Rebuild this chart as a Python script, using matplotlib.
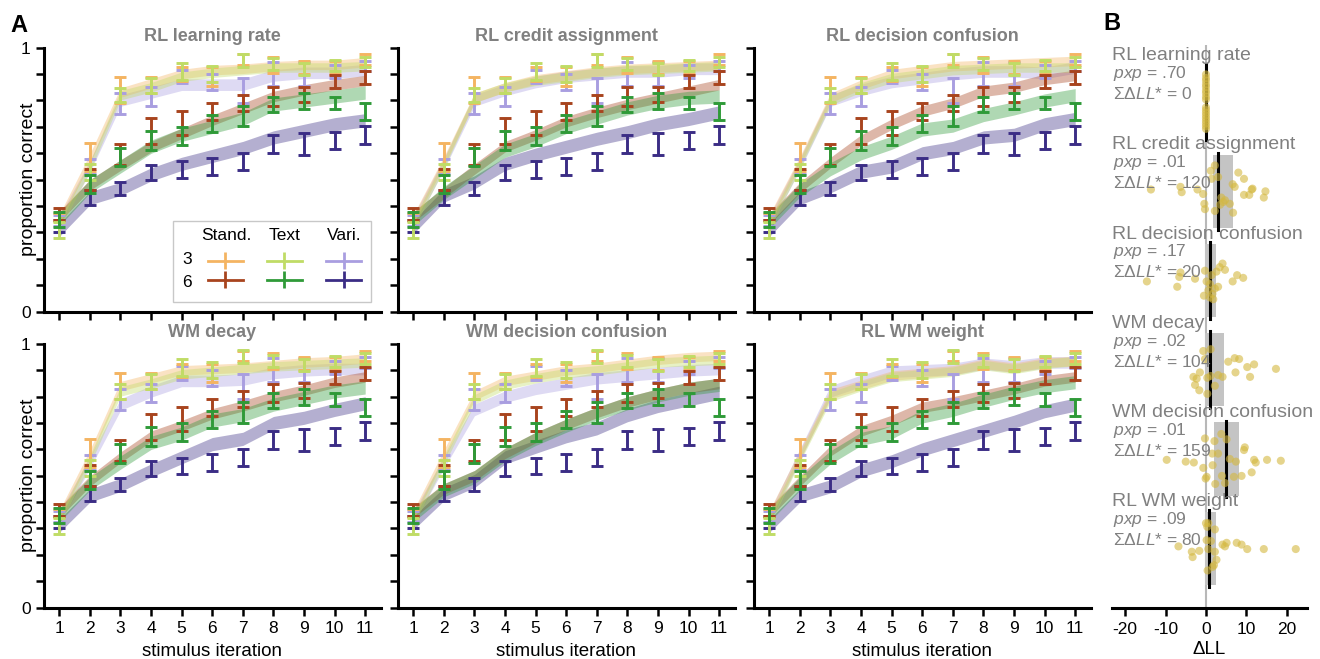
import numpy as np
import matplotlib
matplotlib.use('Agg')
import matplotlib.pyplot as plt
from matplotlib.patches import Rectangle

plt.rcParams['font.family'] = ['Liberation Sans', 'DejaVu Sans']
plt.rcParams['mathtext.fontset'] = 'custom'
plt.rcParams['mathtext.rm'] = 'Liberation Sans'
plt.rcParams['mathtext.it'] = 'Liberation Sans:italic'
plt.rcParams['axes.unicode_minus'] = False

# ---------------- data : panel A (behaviour, same in every panel) ----------------
iterations = [1, 2, 3, 4, 5, 6, 7, 8, 9, 10, 11]
conditions = ['stand3', 'stand6', 'text3', 'text6', 'vari3', 'vari6']
cond_colors = ['#F4B462', '#A8441E', '#C0DC66', '#2F9A38', '#A99EE0', '#3B2D85']

stand3_mean = [0.36, 0.585, 0.84, 0.86, 0.90, 0.89, 0.955, 0.935, 0.925, 0.925, 0.955]
stand3_err = [0.015, 0.053, 0.05, 0.03, 0.025, 0.035, 0.02, 0.03, 0.025, 0.025, 0.02]
stand6_mean = [0.37, 0.50, 0.595, 0.685, 0.715, 0.758, 0.79, 0.815, 0.823, 0.872, 0.888]
stand6_err = [0.022, 0.04, 0.04, 0.05, 0.045, 0.032, 0.03, 0.035, 0.028, 0.025, 0.024]
text3_mean = [0.31, 0.53, 0.82, 0.857, 0.91, 0.90, 0.952, 0.937, 0.92, 0.933, 0.945]
text3_err = [0.03, 0.03, 0.027, 0.028, 0.032, 0.03, 0.024, 0.023, 0.023, 0.02, 0.02]
text6_mean = [0.35, 0.483, 0.585, 0.649, 0.665, 0.713, 0.74, 0.786, 0.798, 0.79, 0.76]
text6_err = [0.028, 0.035, 0.035, 0.037, 0.034, 0.032, 0.038, 0.028, 0.03, 0.024, 0.032]
vari3_mean = [0.345, 0.55, 0.79, 0.815, 0.89, 0.87, 0.838, 0.90, 0.90, 0.91, 0.93]
vari3_err = [0.02, 0.03, 0.04, 0.035, 0.025, 0.03, 0.047, 0.045, 0.045, 0.025, 0.02]
vari6_mean = [0.325, 0.432, 0.467, 0.527, 0.537, 0.55, 0.57, 0.636, 0.636, 0.65, 0.67]
vari6_err = [0.022, 0.028, 0.025, 0.028, 0.032, 0.032, 0.033, 0.034, 0.042, 0.032, 0.033]

data_means = [stand3_mean, stand6_mean, text3_mean, text6_mean, vari3_mean, vari6_mean]
data_errs = [stand3_err, stand6_err, text3_err, text6_err, vari3_err, vari6_err]

# model simulations (band centre per condition), half width per condition
band_halfwidth = [0.018, 0.02, 0.018, 0.025, 0.022, 0.025]

band_rl_lr = [
    [0.35, 0.58, 0.83, 0.865, 0.90, 0.915, 0.92, 0.93, 0.935, 0.935, 0.945],
    [0.36, 0.48, 0.555, 0.625, 0.675, 0.725, 0.77, 0.815, 0.84, 0.86, 0.875],
    [0.33, 0.55, 0.82, 0.85, 0.89, 0.905, 0.915, 0.925, 0.925, 0.925, 0.93],
    [0.35, 0.475, 0.55, 0.625, 0.67, 0.70, 0.73, 0.785, 0.80, 0.815, 0.83],
    [0.34, 0.55, 0.80, 0.83, 0.86, 0.86, 0.86, 0.895, 0.905, 0.905, 0.915],
    [0.31, 0.43, 0.465, 0.52, 0.56, 0.59, 0.62, 0.66, 0.685, 0.71, 0.725]]
band_rl_ca = [
    [0.35, 0.57, 0.81, 0.85, 0.88, 0.895, 0.91, 0.92, 0.925, 0.93, 0.935],
    [0.36, 0.45, 0.54, 0.625, 0.67, 0.72, 0.755, 0.785, 0.81, 0.835, 0.86],
    [0.33, 0.56, 0.81, 0.85, 0.875, 0.89, 0.905, 0.915, 0.92, 0.925, 0.93],
    [0.35, 0.45, 0.53, 0.61, 0.65, 0.70, 0.735, 0.77, 0.795, 0.81, 0.815],
    [0.34, 0.56, 0.80, 0.84, 0.87, 0.89, 0.90, 0.91, 0.91, 0.92, 0.92],
    [0.32, 0.44, 0.49, 0.56, 0.595, 0.625, 0.655, 0.68, 0.71, 0.73, 0.755]]
band_rl_dc = [
    [0.35, 0.57, 0.81, 0.86, 0.90, 0.915, 0.93, 0.935, 0.94, 0.945, 0.95],
    [0.35, 0.47, 0.565, 0.65, 0.71, 0.76, 0.79, 0.835, 0.85, 0.88, 0.895],
    [0.33, 0.56, 0.80, 0.85, 0.885, 0.90, 0.915, 0.92, 0.925, 0.925, 0.925],
    [0.34, 0.46, 0.54, 0.60, 0.64, 0.69, 0.705, 0.745, 0.77, 0.80, 0.82],
    [0.34, 0.56, 0.80, 0.84, 0.87, 0.885, 0.90, 0.91, 0.91, 0.905, 0.925],
    [0.31, 0.43, 0.475, 0.53, 0.55, 0.60, 0.62, 0.66, 0.67, 0.71, 0.73]]
band_wm_decay = [
    [0.35, 0.58, 0.84, 0.87, 0.90, 0.905, 0.91, 0.92, 0.93, 0.935, 0.945],
    [0.36, 0.48, 0.57, 0.65, 0.69, 0.735, 0.765, 0.80, 0.825, 0.855, 0.875],
    [0.33, 0.56, 0.82, 0.85, 0.885, 0.895, 0.905, 0.915, 0.92, 0.925, 0.93],
    [0.35, 0.47, 0.55, 0.625, 0.66, 0.71, 0.73, 0.77, 0.795, 0.82, 0.835],
    [0.34, 0.55, 0.77, 0.82, 0.86, 0.86, 0.865, 0.89, 0.90, 0.905, 0.905],
    [0.31, 0.425, 0.465, 0.52, 0.57, 0.62, 0.64, 0.70, 0.72, 0.75, 0.775]]
band_wm_dc = [
    [0.35, 0.58, 0.805, 0.86, 0.88, 0.90, 0.91, 0.925, 0.94, 0.95, 0.955],
    [0.36, 0.45, 0.50, 0.585, 0.645, 0.695, 0.74, 0.78, 0.81, 0.835, 0.85],
    [0.33, 0.56, 0.79, 0.845, 0.87, 0.89, 0.90, 0.915, 0.93, 0.935, 0.94],
    [0.35, 0.445, 0.495, 0.58, 0.64, 0.69, 0.735, 0.775, 0.805, 0.83, 0.845],
    [0.34, 0.55, 0.75, 0.80, 0.83, 0.85, 0.87, 0.88, 0.89, 0.90, 0.905],
    [0.32, 0.43, 0.48, 0.57, 0.61, 0.65, 0.68, 0.73, 0.765, 0.79, 0.815]]
band_rlwm = [
    [0.35, 0.58, 0.81, 0.845, 0.88, 0.89, 0.90, 0.925, 0.91, 0.93, 0.935],
    [0.36, 0.48, 0.595, 0.67, 0.71, 0.76, 0.78, 0.805, 0.83, 0.86, 0.875],
    [0.33, 0.57, 0.80, 0.84, 0.875, 0.885, 0.895, 0.92, 0.905, 0.925, 0.935],
    [0.35, 0.47, 0.57, 0.64, 0.665, 0.725, 0.75, 0.785, 0.815, 0.84, 0.855],
    [0.34, 0.58, 0.82, 0.86, 0.895, 0.90, 0.905, 0.925, 0.915, 0.93, 0.93],
    [0.31, 0.425, 0.46, 0.52, 0.555, 0.60, 0.635, 0.67, 0.705, 0.745, 0.77]]

model_names = ['RL learning rate', 'RL credit assignment', 'RL decision confusion',
               'WM decay', 'WM decision confusion', 'RL WM weight']
model_bands = [band_rl_lr, band_rl_ca, band_rl_dc, band_wm_decay, band_wm_dc, band_rlwm]

# ---------------- data : panel B (delta LL per subject) ----------------
pxp_vals = ['.70', '.01', '.17', '.02', '.01', '.09']
sum_dll = ['0', '120', '20', '104', '159', '80']
dll_median = [0.0, 3.0, 1.0, 1.1, 4.9, 0.74]
dll_ci_low = [0.0, 1.8, -0.25, -0.25, 2.0, -0.25]
dll_ci_high = [0.0, 6.7, 2.5, 4.4, 8.1, 2.5]

g0_dll = [0, 0, 0, 0, 0, 0, 0, 0, 0, 0, 0, 0, 0, 0, 0, 0, 0, 0]
g0_jit = [-0.31, -0.27, -0.24, -0.2, -0.17, -0.13, -0.1, -0.06, -0.03,
          0.06, 0.09, 0.12, 0.15, 0.18, 0.21, 0.24, 0.27, 0.3]
g1_dll = [-13.6, -6.3, -6.0, -2.1, -0.7, -0.4, -0.25, 1.2, 1.4, 2.2, 2.2, 3.0, 3.8, 4.3,
          4.7, 5.9, 6.6, 6.7, 7.1, 8.0, 9.4, 9.4, 10.7, 11.3, 11.5, 14.3, 14.7, 3.5]
g1_jit = [-0.02, -0.05, 0.01, -0.02, 0.03, 0.14, 0.2, -0.23, -0.14, -0.29, 0.22, -0.16,
          0.07, 0.12, 0.1, 0.14, -0.08, 0.24, -0.05, -0.21, -0.14, 0.04, 0.04, -0.02,
          -0.03, 0.07, 0.0, 0.15]
g2_dll = [-14.6, -7.1, -6.6, -6.3, -2.7, -0.25, -0.5, 0.16, 0.6, 1.0, 1.4, 1.8, 2.2, 2.6,
          3.0, 3.4, 4.1, 4.7, 6.6, 7.7, 9.2, 1.0, 1.6]
g2_jit = [0.01, 0.07, -0.04, -0.09, -0.02, -0.11, 0.17, 0.01, 0.11, 0.19, -0.06, 0.21,
          0.09, -0.1, 0.07, -0.15, -0.19, -0.12, 0.01, -0.06, -0.03, 0.04, 0.15]
g3_dll = [-0.66, 1.15, -0.25, -1.5, -3.1, -2.3, -2.7, -1.65, 0.33, 0.33, 2.2, 3.0, 4.1,
          5.5, 7.1, 8.2, 7.3, 10.2, 10.9, 11.9, 17.3, 1.15]
g3_jit = [-0.21, -0.23, -0.12, 0.03, 0.08, 0.1, 0.17, 0.23, 0.27, 0.09, 0.18, 0.06, 0.08,
          -0.09, -0.13, -0.12, 0.03, -0.03, 0.08, -0.06, -0.01, 0.07]
g4_dll = [-9.7, -5.0, -3.0, -0.25, -0.66, 0.16, -0.08, 1.65, 2.1, 1.56, 3.0, 3.8, 5.1,
          3.95, 2.3, 4.7, 5.9, 6.9, 7.4, 8.8, 9.4, 9.6, 11.9, 12.3, 11.3, 15.1, 18.5]
g4_jit = [0.01, 0.03, 0.04, -0.23, 0.1, 0.2, 0.22, 0.07, -0.2, -0.06, -0.06, -0.28,
          -0.22, 0.19, 0.28, 0.27, 0.0, 0.2, 0.03, 0.19, -0.1, -0.13, 0.01, 0.04, 0.15,
          0.01, 0.02]
g5_dll = [-6.8, -3.5, -3.3, -1.65, 0.0, 0.33, 0.16, 0.58, 1.23, 2.2, 2.2, 2.6, 1.65, 1.98,
          0.41, 4.1, 5.1, 4.7, 7.6, 8.8, 10.2, 14.3, 22.2, 0.58]
g5_jit = [-0.02, 0.04, 0.1, 0.03, -0.28, -0.24, -0.09, 0.01, -0.08, -0.21, 0.04, 0.13,
          0.21, 0.19, 0.25, -0.04, -0.06, -0.02, -0.06, -0.04, 0.01, 0.01, 0.01, -0.28]
group_dll = [g0_dll, g1_dll, g2_dll, g3_dll, g4_dll, g5_dll]
group_jit = [g0_jit, g1_jit, g2_jit, g3_jit, g4_jit, g5_jit]

# ---------------- figure ----------------
W, H = 1320, 659
fig = plt.figure(figsize=(W / 100, H / 100), dpi=100)

lefts = [44, 398, 754]
rows = [(47.7, 311.7), (344.0, 607.5)]
gray = '#808080'


def style_axis(ax):
    for s in ['top', 'right']:
        ax.spines[s].set_visible(False)
    for s in ['left', 'bottom']:
        ax.spines[s].set_linewidth(2.2)
    ax.tick_params(direction='out', length=5.5, width=1.8, labelsize=12.5, pad=4)


axes = []
for k in range(6):
    r, c = divmod(k, 3)
    top, bot = rows[r]
    ax = fig.add_axes([lefts[c] / W, 1 - bot / H, 336.5 / W, (bot - top) / H])
    axes.append(ax)
    style_axis(ax)
    x = np.array(iterations)
    bands = model_bands[k]
    for i in [4, 5, 1, 3, 0, 2]:
        b = np.array(bands[i])
        ax.fill_between(x, b - band_halfwidth[i], b + band_halfwidth[i],
                        color=cond_colors[i], alpha=0.38, lw=0)
    for i in [4, 5, 0, 1, 2, 3]:
        ax.errorbar(x, data_means[i], yerr=data_errs[i], fmt='none',
                    ecolor=cond_colors[i], elinewidth=2.1, capsize=4.3, capthick=2.1)
    ax.set_xlim(0.5, 11.5)
    ax.set_ylim(0, 1)
    ax.set_xticks(iterations)
    ax.set_yticks(np.arange(0, 1.01, 0.1))
    if c == 0:
        ax.set_yticklabels(['0'] + [''] * 9 + ['1'])
        ax.set_ylabel('proportion correct', fontsize=14)
        ax.yaxis.set_label_coords(-0.02, 0.5)
    else:
        ax.set_yticklabels([])
    if r == 1:
        ax.set_xlabel('stimulus iteration', fontsize=13.5, labelpad=5)
    else:
        ax.set_xticklabels([])
    ax.set_title(model_names[k], fontsize=13, fontweight='bold', color=gray, pad=5)

# legend in first panel
ax0 = axes[0]
proxies = []
for i in [0, 1, 2, 3, 4, 5]:
    h = ax0.errorbar([], [], yerr=[], fmt='-', color=cond_colors[i], lw=2.0,
                     elinewidth=2.0, capsize=4.3, capthick=2.0)
    proxies.append(h)
ax0.add_patch(Rectangle((0.3825, 0.038), 0.5885, 0.307, transform=ax0.transAxes,
                        facecolor='white', edgecolor='#c8c8c8', lw=1.0, zorder=4))
leg = ax0.legend(proxies, [''] * 6, ncol=3, loc='center', bbox_to_anchor=(0.7145, 0.1525),
                 frameon=False, handlelength=2.1, handletextpad=0, columnspacing=1.45,
                 labelspacing=0.25, borderpad=0, fontsize=12)
leg.set_zorder(5)
for lbl, xx in zip(['Stand.', 'Text', 'Vari.'], [0.541, 0.716, 0.8915]):
    ax0.text(xx, 0.29, lbl, transform=ax0.transAxes, ha='center', va='center',
             fontsize=12.5, zorder=6)
for lbl, yy in zip(['3', '6'], [0.196, 0.109]):
    ax0.text(0.424, yy, lbl, transform=ax0.transAxes, ha='center', va='center',
             fontsize=12.5, zorder=6)

# ---------------- panel B ----------------
axb = fig.add_axes([1111.7 / W, 1 - 607.5 / H, 195 / W, (607.5 - 45) / H])
for s in ['top', 'right', 'left']:
    axb.spines[s].set_visible(False)
axb.spines['bottom'].set_linewidth(2.2)
axb.tick_params(axis='x', direction='out', length=5.5, width=1.8, labelsize=12.5, pad=5)
axb.set_yticks([])
axb.set_xlim(-23.3, 24.9)
axb.set_ylim(5.665, -0.64)
axb.set_xticks([-20, -10, 0, 10, 20])
axb.set_xlabel('ΔLL', fontsize=13.5, labelpad=3)
axb.axvline(0, color='#b8b8b8', lw=1.5, zorder=1)
tr = axb.get_yaxis_transform()
for g in range(6):
    axb.add_patch(Rectangle((dll_ci_low[g], g - 0.41), dll_ci_high[g] - dll_ci_low[g], 0.82,
                            facecolor='#c4c4c4', edgecolor='none', zorder=2))
    axb.plot([dll_median[g], dll_median[g]], [g - 0.43, g + 0.43], color='black',
             lw=2.2, zorder=3)
    axb.scatter(group_dll[g], np.array(group_jit[g]) + g, s=34, color='#D4B840',
                alpha=0.6, edgecolors='none', zorder=4)
    axb.text(0.0, g - 0.52, model_names[g], transform=tr, ha='left', va='center',
             fontsize=14, color=gray, zorder=5)
    axb.text(0.005, g - 0.32, '$pxp$ = ' + pxp_vals[g], transform=tr, ha='left',
             va='center', fontsize=12.5, color=gray, zorder=5)
    axb.text(0.005, g - 0.09, 'ΣΔ$LL$* = ' + sum_dll[g], transform=tr, ha='left',
             va='center', fontsize=12.5, color=gray, zorder=5)

fig.text(10 / W, 1 - 32 / H, 'A', fontsize=17, fontweight='bold', va='baseline')
fig.text(1103 / W, 1 - 30 / H, 'B', fontsize=17, fontweight='bold', va='baseline')

fig.savefig('out.png', dpi=100)
